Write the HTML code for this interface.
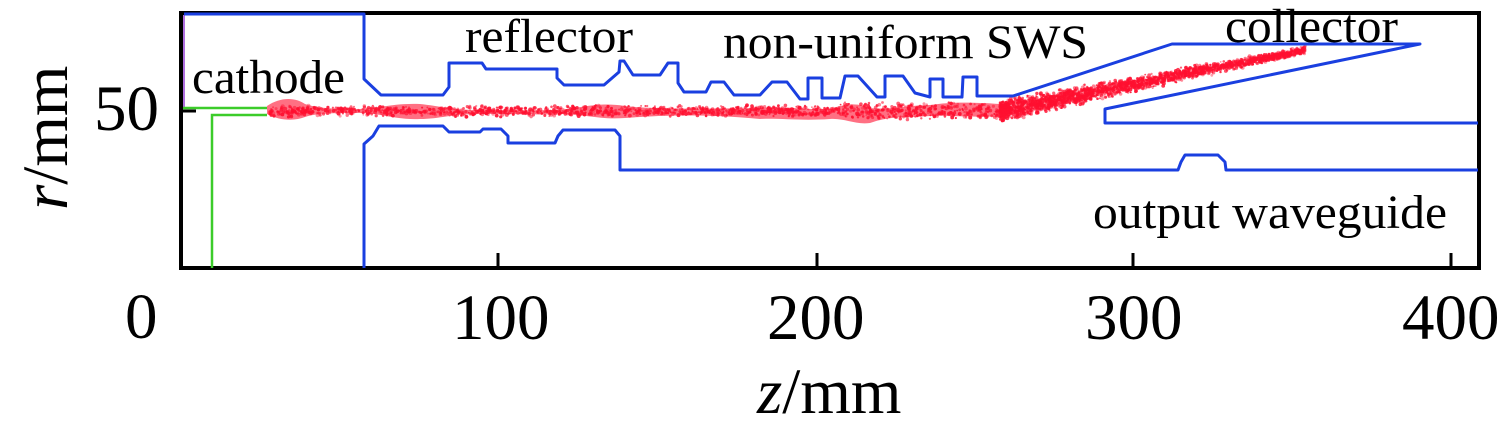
<!DOCTYPE html>
<html><head><meta charset="utf-8"><style>
html,body{margin:0;padding:0;background:#fff;}
svg{display:block;}
text{font-family:"Liberation Serif","Times New Roman",serif;fill:#000;}
</style></head><body>
<svg id="s" width="1512" height="433" viewBox="0 0 1512 433" xmlns="http://www.w3.org/2000/svg">
<rect width="1512" height="433" fill="#fff"/>
<g id="beam" fill="#ff1030">
<path d="M267,106 C280,97 295,97 305,104 C318,108 330,109 360,109 C380,108 395,103 420,104 C440,106 450,110 480,110 C520,111 540,110 560,110 C585,107 600,102 625,106 C650,109 700,109 760,108 C790,106 800,110 830,109 C850,102 860,104 870,108 C890,110 900,106 930,105 C950,102 970,102 1000,104 L1010,104 L1010,116 C970,118 950,115 930,116 C900,118 890,116 870,123 C855,125 845,118 830,119 C800,121 780,118 760,119 C700,113 650,116 625,118 C600,120 585,114 560,114 C540,115 520,114 480,114 C450,114 440,119 420,119 C395,120 380,113 360,113 C330,113 318,113 305,117 C295,121 280,121 267,114 Z" opacity="0.6"/>
</g>
<g id="dots" fill="#ff1030"></g>
<rect x="181" y="13" width="1298" height="255" fill="none" stroke="#000" stroke-width="4"/>
<g stroke="#000" stroke-width="3">
<line x1="498" y1="268" x2="498" y2="253"/>
<line x1="817" y1="268" x2="817" y2="253"/>
<line x1="1133" y1="268" x2="1133" y2="253"/>
<line x1="1451" y1="268" x2="1451" y2="253"/>
<line x1="181" y1="111" x2="196" y2="111"/>
</g>
<line x1="184" y1="15" x2="184" y2="108" stroke="#b070e0" stroke-width="2"/>
<polyline points="183,108 267,108" fill="none" stroke="#3ccc2a" stroke-width="2.5"/>
<polyline points="267,115 212,115 212,268" fill="none" stroke="#3ccc2a" stroke-width="2.5"/>
<g fill="none" stroke="#1a3fe0" stroke-width="3" stroke-linejoin="round">
<polyline points="184,14 364,14 364,79 381,95 443,95 449,87 449,63 482,63 486,69 557,69 557,78 564,85 604,85 619,72 620,61 624,61 633,75 660,75 668,63 678,63 678,83 684,92 706,92 711,82 724,82 734,95 760,95 772,82 787,82 800,99 808,99 808,78 822,78 822,98 840,98 845,76 858,76 877,97 885,97 885,76 903,76 915,93 930,97 930,79 943,79 943,97 962,97 963,77 977,77 977,96 1013,96 1172,44 1420,44 1105,109 1105,123 1478,123"/>
<polyline points="364,268 364,144 373,136 379,126 443,126 449,132 480,132 483,129 501,129 508,136 508,143 555,143 558,136 563,130 615,130 620,136 620,170 1178,170 1181,162 1185,155 1218,155 1225,162 1226,170 1478,170"/>
</g>
<text x="465" y="52" font-size="48" textLength="168" lengthAdjust="spacingAndGlyphs">reflector</text>
<text x="192" y="93" font-size="48" textLength="153" lengthAdjust="spacingAndGlyphs">cathode</text>
<text x="723" y="58" font-size="48" textLength="365" lengthAdjust="spacingAndGlyphs">non-uniform SWS</text>
<text x="1225" y="42" font-size="48" textLength="173" lengthAdjust="spacingAndGlyphs">collector</text>
<text x="1093" y="228" font-size="48" textLength="354" lengthAdjust="spacingAndGlyphs">output waveguide</text>
<g font-size="65">
<text x="125" y="338">0</text>
<text x="452" y="339">100</text>
<text x="767" y="339">200</text>
<text x="1085" y="339">300</text>
<text x="1402" y="339">400</text>
<text x="94" y="130">50</text>
<text x="757" y="413"><tspan font-style="italic">z</tspan>/mm</text>
<text transform="translate(67,210) rotate(-90)"><tspan font-style="italic">r</tspan>/mm</text>
</g>
</svg>
<script>
(function(){
var g=document.getElementById('dots');var seed=7;
function r(){seed=(seed*16807)%2147483647;return seed/2147483647;}
function c(x){ if(x<1000) return 111; return 111-(x-1000)*0.2; }
var s='';
function dot(x,y){s+='<circle cx="'+x.toFixed(1)+'" cy="'+y.toFixed(1)+'" r="'+(0.9+r()*1.1).toFixed(1)+'" opacity="'+(0.4+r()*0.55).toFixed(2)+'"/>';}
for(var i=0;i<1500;i++){
 var x=270+r()*740; var w=(x>840?9:6);
 dot(x,c(x)+(r()-0.5)*2*w*(0.4+0.6*r()));
}
for(var i=0;i<2200;i++){
 var x=1000+Math.pow(r(),1.3)*305; var w=12-(x-1000)*0.025;
 dot(x,c(x)+(r()-0.5)*2*w*(0.3+0.7*r()));
}
g.innerHTML=s;
})();
</script>
</body></html>
